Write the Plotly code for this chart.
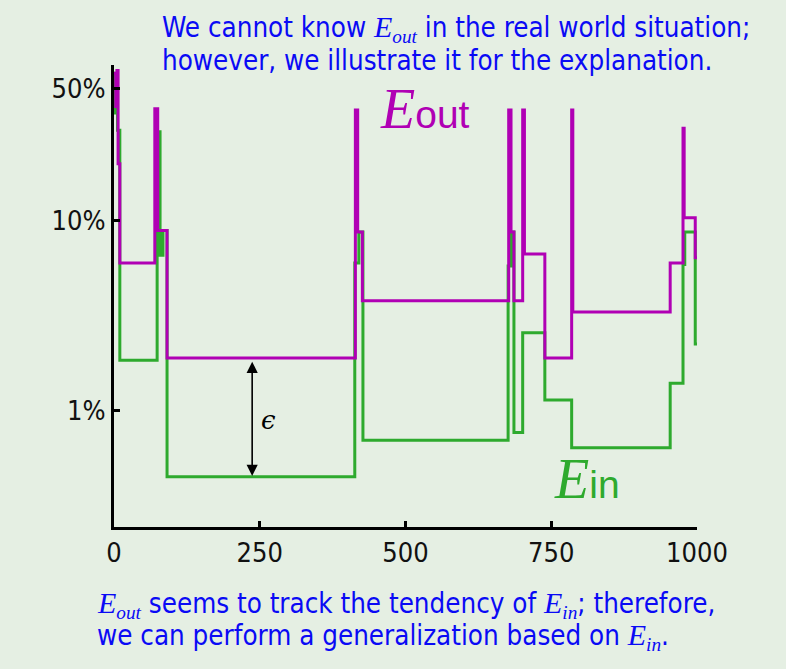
import plotly.graph_objects as go
import math

# ---- data (fractions) ----
eout_x = [0, 3, 5, 7, 10, 70, 75, 91, 414, 418, 426, 677, 681, 686, 701, 704, 739, 785, 787, 954, 976, 978, 997, 1002]
eout_y = [0.60, 0.40, 0.62, 0.20, 0.060, 0.39, 0.089, 0.019, 0.384, 0.0875, 0.038, 0.384, 0.0875, 0.038,
          0.384, 0.067, 0.019, 0.384, 0.0332, 0.060, 0.308, 0.104, 0.064, 0.064]

ein_x = [0, 2, 6, 10, 74, 79, 84, 91, 413, 420, 427, 676, 681, 686, 701, 739, 785, 954, 976, 979, 997, 1002]
ein_y = [0.37, 0.60, 0.30, 0.0185, 0.295, 0.066, 0.089, 0.0045, 0.060, 0.0875, 0.0070, 0.058, 0.0875, 0.0077,
         0.0258, 0.0114, 0.0064, 0.0140, 0.059, 0.0875, 0.0225, 0.0225]

x_ticks = [0, 250, 500, 750, 1000]
y_ticks = [0.01, 0.1, 0.5]
y_tick_labels = ["1%", "10%", "50%"]

MAGENTA = "#B000B4"
GREEN = "#2EAA2E"
BG = "#E5EFE3"
BLUE = "#0A0AF5"
TICKFONT = "DejaVu Sans Condensed, sans-serif"
TEXTFONT = "DejaVu Sans Condensed, sans-serif"
MATH = "DejaVu Serif, Liberation Serif, serif"

# plot-area geometry (pixels) used to place paper-referenced text
X0, PW, Y1, PH = 114, 583, 527, 462


def px(xp):
    return (xp - X0) / PW


def py(yp):
    return (Y1 - yp) / PH


fig = go.Figure()
fig.add_trace(go.Scatter(x=ein_x, y=ein_y, mode="lines", line=dict(color=GREEN, width=3, shape="hv"),
                         hoverinfo="skip", showlegend=False))
fig.add_trace(go.Scatter(x=eout_x, y=eout_y, mode="lines", line=dict(color=MAGENTA, width=3, shape="hv"),
                         hoverinfo="skip", showlegend=False))

L = math.log10
eps_x = 237
fig.add_annotation(x=eps_x, y=L(0.00455), ax=eps_x, ay=L(0.0185), xref="x", yref="y", axref="x", ayref="y",
                   showarrow=True, arrowhead=2, arrowside="end+start", arrowsize=1.4, arrowwidth=1.6,
                   arrowcolor="black", text="")
fig.add_annotation(x=265, y=-2.047, xref="x", yref="y", showarrow=False,
                   text="<i>ϵ</i>", font=dict(family=MATH, size=26, color="black"))

# series labels
fig.add_annotation(x=452, y=-0.41, xref="x", yref="y", showarrow=False, xanchor="left", yanchor="middle",
                   text="<i><span style='font-family:Liberation Serif,serif;font-size:56px'>E</span></i><span style='font-family:Liberation Sans,sans-serif;font-size:39px'>out</span>",
                   font=dict(color=MAGENTA, size=39, family="Liberation Sans, sans-serif"))
fig.add_annotation(x=752, y=-2.36, xref="x", yref="y", showarrow=False, xanchor="left", yanchor="middle",
                   text="<i><span style='font-family:Liberation Serif,serif;font-size:56px'>E</span></i><span style='font-family:Liberation Sans,sans-serif;font-size:39px'>in</span>",
                   font=dict(color=GREEN, size=39, family="Liberation Sans, sans-serif"))

EOUT = "<i><span style='font-family:Liberation Serif,serif;font-size:30px'>E</span><sub><span style='font-family:Liberation Serif,serif'>out</span></sub></i>"
EIN = "<i><span style='font-family:Liberation Serif,serif;font-size:30px'>E</span><sub><span style='font-family:Liberation Serif,serif'>in</span></sub></i>"

lines = [
    (160, 28, f"We cannot know {EOUT} in the real world situation;"),
    (160, 60, "however, we illustrate it for the explanation."),
    (95, 604, f"{EOUT} seems to track the tendency of {EIN}; therefore,"),
    (95, 636, f"we can perform a generalization based on {EIN}."),
]
for xp, yp, t in lines:
    fig.add_annotation(x=px(xp), y=py(yp), xref="paper", yref="paper", xanchor="left", yanchor="middle",
                       showarrow=False, align="left", text=t,
                       font=dict(family=TEXTFONT, size=27.5, color=BLUE))

fig.update_xaxes(range=[0, 1000], tickvals=x_ticks, ticktext=[str(v) for v in x_ticks],
                 showline=True, linecolor="black", linewidth=3, ticks="inside", ticklen=6, tickwidth=3,
                 tickcolor="black", showgrid=False, zeroline=False,
                 tickfont=dict(family=TICKFONT, size=27, color="#111"))
fig.update_yaxes(type="log", range=[-2.611, -0.179], tickvals=y_ticks, ticktext=y_tick_labels,
                 showline=True, linecolor="black", linewidth=3, ticks="inside", ticklen=6, tickwidth=3,
                 tickcolor="black", showgrid=False, zeroline=False,
                 tickfont=dict(family=TICKFONT, size=27, color="#111"))

fig.update_layout(width=786, height=669, margin=dict(l=X0, r=786 - X0 - PW, t=Y1 - PH, b=669 - Y1),
                  paper_bgcolor=BG, plot_bgcolor=BG)

fig.write_html("out.html", config={"displayModeBar": False},
               post_script="document.body.style.margin='0px';document.body.style.background='%s';" % BG)
